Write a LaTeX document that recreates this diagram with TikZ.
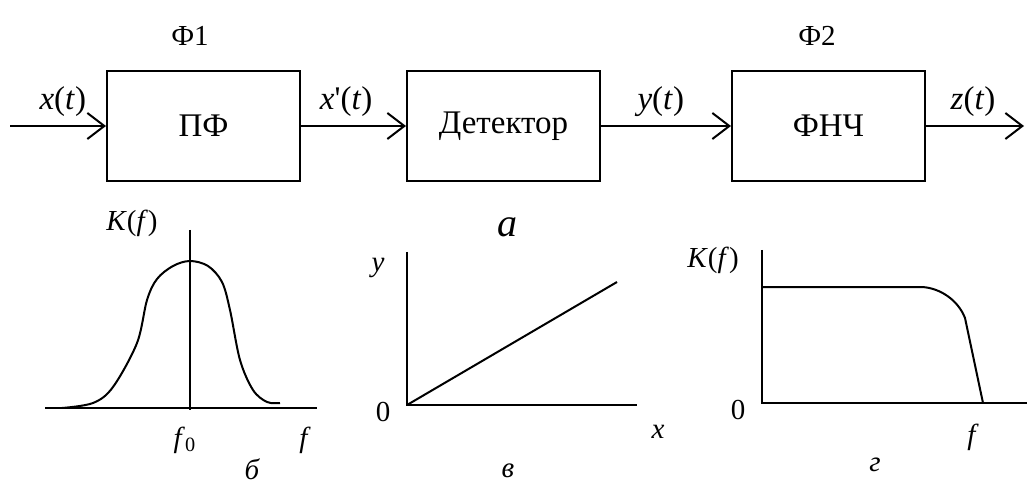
\documentclass[tikz,border=0pt]{standalone}
\usepackage{fontspec}
\setmainfont{Liberation Serif}
\usetikzlibrary{arrows.meta, positioning}
\tikzset{
    block/.style={rectangle, draw, line width=1pt, minimum width=96.5pt, minimum height=55pt, inner sep=0pt, font=\fontsize{16.5}{19}\selectfont},
    sig/.style={-{Straight Barb[length=8.5pt, width=13pt]}, line width=1pt},
    lbl/.style={font=\fontsize{14.5}{17}\selectfont, inner sep=1pt},
    siglbl/.style={font=\fontsize{16.5}{19}\selectfont, inner sep=1pt},
    sublbl/.style={font=\fontsize{14.5}{17}\selectfont\itshape, inner sep=1pt},
    axis/.style={line width=1pt},
    curve/.style={line width=1pt}
}

\begin{document}
\begin{tikzpicture}[x=0.5pt, y=-0.5pt]
  \useasboundingbox (0,0) rectangle (1027,486);
  % block diagram (a)
  \node[block] (pf) at (203.5,126) {ПФ};
  \node[block, right=52.5pt of pf] (det) {Детектор};
  \node[block, right=65pt of det] (fnch) {ФНЧ};
  \coordinate (in) at (10,126);
  \coordinate (out) at (1024,126);
  \node[lbl] (f1) at (190,36) {Ф1};
  \node[lbl] (f2) at (817,36) {Ф2};
  \draw[sig] (in) -- node[siglbl, above=3pt, pos=0.55]{\textit{x}(\textit{t})} (pf);
  \draw[sig] (pf) -- node[siglbl, above=3pt, pos=0.43]{\textit{x}\textquotesingle(\textit{t})} (det);
  \draw[sig] (det) -- node[siglbl, above=3pt, pos=0.46]{\textit{y}(\textit{t})} (fnch);
  \draw[sig] (fnch) -- node[siglbl, above=3pt, pos=0.48]{\textit{z}(\textit{t})} (out);
  \node[sublbl, font=\fontsize{20}{22}\selectfont\itshape] (capa) at (507,227) {а};
  % band-pass response (b)
  \draw[axis] (45,408) -- (317,408);
  \draw[axis] (190,230) -- (190,410);
  \draw[curve] plot[smooth, tension=0.55] coordinates {(62,408) (93,403) (113,387) (137,343) (147,300) (157,279) (173,266) (190,261) (208,266) (222,282) (230,310) (240,360) (253,390) (267,402) (280,403)};
  \node[lbl] (kf1) at (132,223) {\textit{K}(\textit{f})};
  \node[lbl] (f0) at (185,440) {\textit{f}\textsubscript{0}};
  \node[lbl] (fa) at (305,440) {\textit{f}};
  \node[sublbl] (capb) at (252,469) {б};
  % detector characteristic (v)
  \draw[axis] (407,252) -- (407,405) -- (637,405);
  \draw[curve] (407,405) -- (617,282);
  \node[lbl] (ylbl) at (378,268) {\textit{y}};
  \node[lbl] (zero1) at (383,412) {0};
  \node[lbl] (xlbl) at (658,432) {\textit{x}};
  \node[sublbl] (capv) at (508,471) {в};
  % low-pass response (g)
  \draw[axis] (762,250) -- (762,403) -- (1027,403);
  \draw[curve] (762,287) -- (922,287) .. controls (940,288) and (958,300) .. (965,318) -- (983,403);
  \node[lbl] (kf2) at (713,260) {\textit{K}(\textit{f})};
  \node[lbl] (zero2) at (738,410) {0};
  \node[lbl] (fb) at (973,437) {\textit{f}};
  \node[sublbl] (capg) at (875,465) {г};
\end{tikzpicture}
\end{document}
